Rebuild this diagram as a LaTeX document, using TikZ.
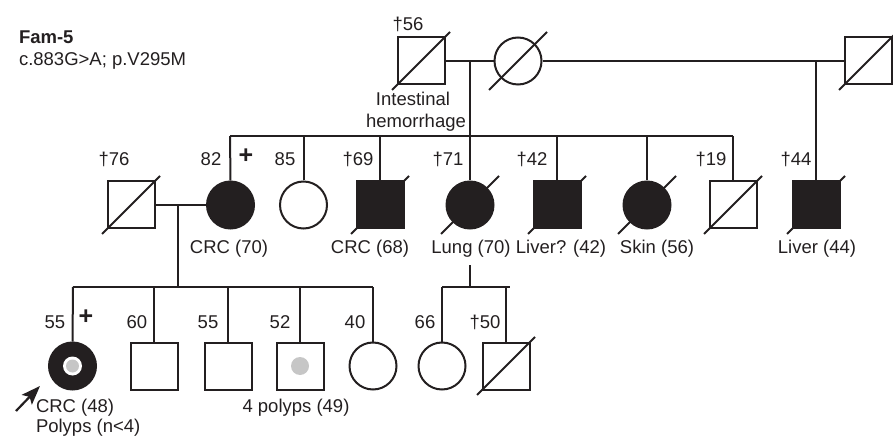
\documentclass[tikz,border=0pt]{standalone}
\usepackage{fontspec}
\setmainfont{Liberation Sans}
\usetikzlibrary{arrows.meta}
\definecolor{ink}{HTML}{231F20}
\definecolor{dotgray}{HTML}{C6C6C6}
\begin{document}
\begin{tikzpicture}[x=1pt,y=-1pt,line width=2pt,draw=ink,
  font=\fontsize{18.5}{22}\selectfont,
  sq/.style={draw=ink,rectangle,minimum size=47pt,inner sep=0pt,line width=2pt},
  ci/.style={draw=ink,circle,minimum size=47pt,inner sep=0pt,line width=2pt},
  aff/.style={fill=ink},
  lbl/.style={inner sep=0pt,text=ink,anchor=base},
  lbll/.style={inner sep=0pt,text=ink,anchor=base west},
  plus/.style={inner sep=0pt,text=ink,font=\fontsize{25}{26}\selectfont\bfseries},
  slash/.style={draw=ink,line width=2pt}]
\useasboundingbox (0,0) rectangle (893,438);
\newcommand{\deceased}[1]{\draw[slash] ([shift={(-29,29)}]#1.center) -- ([shift={(29,-29)}]#1.center);}

% title
\node[lbll,font=\fontsize{18.5}{22}\selectfont\bfseries] (title) at (18,44) {Fam-5};
\node[lbll] (mut) at (18,66) {c.883G>A; p.V295M};

% Generation I
\node[sq] (s56) at (421,61) {};
\node[ci] (c1) at (518,61) {};
\node[sq] (sR) at (868,61) {};
\deceased{s56}\deceased{c1}\deceased{sR}
\draw (s56) -- (c1);
\draw (c1) -- (sR);
\node[lbl] (l56) at (408,31) {†56};
\node[lbl] (lint) at (413,106) {Intestinal};
\node[lbl] (lhem) at (416,128) {hemorrhage};

\coordinate (d1) at (470,61);
\coordinate (d1b) at (470,136);
\coordinate (sibL) at (230,136);
\coordinate (sibR) at (733,136);
\coordinate (d2) at (816,61);

% Generation II
\node[sq] (s76) at (131,205) {};
\node[ci,aff] (c82) at (230.5,205) {};
\node[ci] (c85) at (303.5,205) {};
\node[sq,aff] (s69) at (380,205) {};
\node[ci,aff] (c71) at (470,205) {};
\node[sq,aff] (s42) at (557,205) {};
\node[ci,aff] (c56) at (647,205) {};
\node[sq] (s19) at (733,205) {};
\node[sq,aff] (s44) at (816,205) {};
\deceased{s76}\deceased{s69}\deceased{c71}\deceased{s42}\deceased{c56}\deceased{s19}\deceased{s44}

\draw (d1) -- (d1b);
\draw (sibL) -- (sibR);
\draw (sibL) -- (c82.north);
\draw (c85.north |- sibL) -- (c85.north);
\draw (s69.north |- sibL) -- (s69.north);
\draw (d1b) -- (c71.north);
\draw (s42.north |- sibL) -- (s42.north);
\draw (c56.north |- sibL) -- (c56.north);
\draw (sibR) -- (s19.north);
\draw (d2) -- (s44.north);

\node[lbl] (a76) at (114,166) {†76};
\node[lbl] (a82) at (211,166) {82};
\node[plus] (p82) at (246,156) {+};
\node[lbl] (a85) at (285,166) {85};
\node[lbl] (a69) at (358,166) {†69};
\node[lbl] (a71) at (448,166) {†71};
\node[lbl] (a42) at (532,166) {†42};
\node[lbl] (a19) at (711,166) {†19};
\node[lbl] (a44) at (796,166) {†44};

\node[lbl] (t82) at (229,253) {CRC (70)};
\node[lbl] (t69) at (370,253) {CRC (68)};
\node[lbl] (t71) at (471,253) {Lung (70)};
\node[lbl] (t42) at (561,253) {Liver? (42)};
\node[lbl] (t56) at (657,253) {Skin (56)};
\node[lbl] (t44) at (817,253) {Liver (44)};

\draw (s76) -- (c82);
\coordinate (m2) at (178,205);
\coordinate (m2b) at (178,287);

% Generation III (left)
\node[ci,aff] (p55) at (72.5,366) {};
\fill[white] (p55.center) circle (9.5);
\fill[dotgray] (p55.center) circle (6.5);
\node[sq] (s60) at (154,366) {};
\node[sq] (s55) at (228,366) {};
\node[sq] (s52) at (300,366) {};
\fill[dotgray] (s52.center) circle (9);
\node[ci] (c40) at (373,366) {};

\coordinate (sib3L) at (73,287);
\coordinate (sib3R) at (373,287);
\draw (m2) -- (m2b);
\draw (sib3L) -- (sib3R);
\draw (sib3L) -- (p55.north);
\draw (s60.north |- sib3L) -- (s60.north);
\draw (s55.north |- sib3L) -- (s55.north);
\draw (s52.north |- sib3L) -- (s52.north);
\draw (sib3R) -- (c40.north);

\node[lbl] (b55) at (55,328) {55};
\node[plus] (pp55) at (86,317) {+};
\node[lbl] (b60) at (137,328) {60};
\node[lbl] (b55b) at (208,328) {55};
\node[lbl] (b52) at (280,328) {52};
\node[lbl] (b40) at (355,328) {40};

\node[lbll] (crc48) at (35,412) {CRC (48)};
\node[lbll] (pol) at (35,432) {Polyps (n<4)};
\node[lbl] (pol4) at (296,412) {4 polyps (49)};

\coordinate (arrS) at (16,411);
\coordinate (arrE) at (40,386);
\draw[line width=2.2pt,-{Stealth[length=19pt,width=14pt,inset=4pt]}] (arrS) -- (arrE);

% Generation III (right)
\coordinate (m3) at (470,265);
\coordinate (m3b) at (470,287);
\coordinate (sib4L) at (442,287);
\coordinate (sib4R) at (510,287);
\node[ci] (c66) at (442,366) {};
\node[sq] (s50) at (506,366) {};
\deceased{s50}
\draw (m3) -- (m3b);
\draw (sib4L) -- (sib4R);
\draw (sib4L) -- (c66.north);
\draw (s50.north |- sib4L) -- (s50.north);
\node[lbl] (b66) at (425,328) {66};
\node[lbl] (b50) at (485,328) {†50};
\end{tikzpicture}
\end{document}
